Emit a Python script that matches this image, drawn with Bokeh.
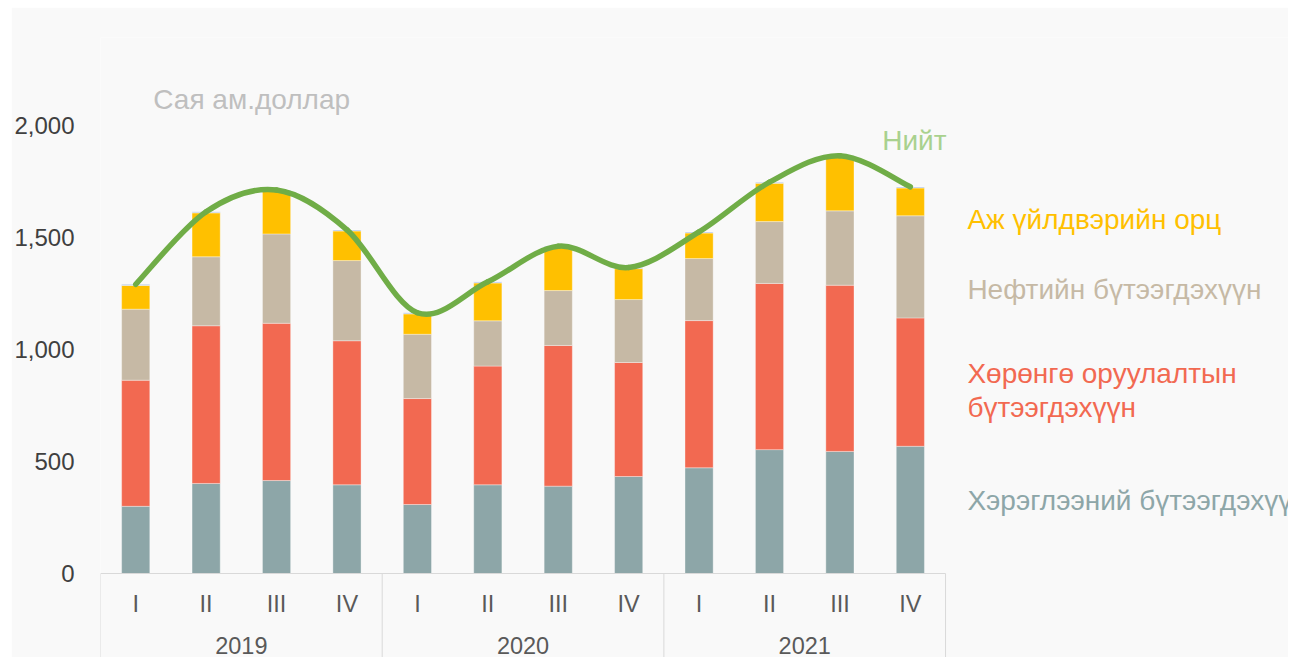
from bokeh.plotting import figure
from bokeh.models import Range1d, FixedTicker, NumeralTickFormatter, Label, LinearAxis, ColumnDataSource, Spacer
from bokeh.layouts import row, column
from bokeh.embed import file_html
from bokeh.resources import INLINE

years = ["2019", "2020", "2021"]
quarters = ["I", "II", "III", "IV"]

consumer = [300, 402, 415, 396, 308, 396, 390, 433, 472, 553, 545, 568]
investment = [563, 704, 702, 643, 473, 530, 628, 509, 657, 742, 742, 573]
petroleum = [317, 308, 399, 358, 287, 202, 245, 281, 277, 276, 332, 456]
industrial = [106, 196, 191, 132, 91, 169, 193, 138, 114, 171, 241, 124]
other = [5, 5, 5, 5, 5, 5, 5, 5, 5, 5, 5, 5]

names = ["consumer", "investment", "petroleum", "industrial", "other"]
colors = ["#8DA6A8", "#F26951", "#C6B9A5", "#FFC000", "#B4C7E7"]

labels_q = [q for y in years for q in quarters]
n = len(labels_q)
xpos = [i + 0.5 for i in range(n)]
totals = [a + b + c + d + e for a, b, c, d, e in zip(consumer, investment, petroleum, industrial, other)]

FONT = "Liberation Sans"

p = figure(
    x_range=Range1d(0, 16.87),
    y_range=Range1d(-375, 2392.857),
    frame_width=1188, frame_height=620,
    min_border_left=88, min_border_right=0, min_border_top=30, min_border_bottom=0,
    output_backend="svg", toolbar_location=None,
    background_fill_color="#f9f9f9", border_fill_color="#f9f9f9",
    outline_line_color=None,
)

source = ColumnDataSource(dict(x=xpos, consumer=consumer, investment=investment,
                               petroleum=petroleum, industrial=industrial, other=other))
p.vbar_stack(names, x="x", width=0.4, fill_color=colors, line_color="#ffffff",
             line_alpha=0.35, line_width=1, source=source)

# group boundaries below the axis
bounds = [0]
for y in years:
    bounds.append(bounds[-1] + len(quarters))
centers = [(bounds[i] + bounds[i + 1]) / 2 for i in range(len(years))]
p.segment(x0=bounds, y0=[0] * len(bounds), x1=bounds, y1=[-1000] * len(bounds),
          line_color="#D9D9D9", line_width=1)

# smoothed total line (Catmull-Rom -> Bezier)
def P(i):
    i = max(0, min(n - 1, i))
    return xpos[i], totals[i]
bx0, by0, bx1, by1, cx0, cy0, cx1, cy1 = [], [], [], [], [], [], [], []
for i in range(n - 1):
    p0, p1, p2, p3 = P(i - 1), P(i), P(i + 1), P(i + 2)
    bx0.append(p1[0]); by0.append(p1[1])
    bx1.append(p2[0]); by1.append(p2[1])
    cx0.append(p1[0] + (p2[0] - p0[0]) / 6); cy0.append(p1[1] + (p2[1] - p0[1]) / 6)
    cx1.append(p2[0] - (p3[0] - p1[0]) / 6); cy1.append(p2[1] - (p3[1] - p1[1]) / 6)
p.bezier(x0=bx0, y0=by0, x1=bx1, y1=by1, cx0=cx0, cy0=cy0, cx1=cx1, cy1=cy1,
         line_color="#70AD47", line_width=5.5, line_cap="round")

p.xgrid.visible = False
p.ygrid.visible = False

p.yaxis.ticker = FixedTicker(ticks=[0, 500, 1000, 1500, 2000])
p.yaxis.formatter = NumeralTickFormatter(format="0,0")
p.yaxis.axis_line_color = None
p.yaxis.major_tick_line_color = None
p.yaxis.minor_tick_line_color = None
p.yaxis.major_label_standoff = 20
p.yaxis.major_label_text_font = FONT
p.yaxis.major_label_text_font_size = "24px"
p.yaxis.major_label_text_color = "#404040"

# quarter axis
xa = p.xaxis[0]
xa.fixed_location = 0
xa.bounds = (bounds[0], bounds[-1])
xa.ticker = FixedTicker(ticks=xpos)
xa.major_label_overrides = {x: q for x, q in zip(xpos, labels_q)}
xa.axis_line_color = "#D9D9D9"
xa.major_tick_line_color = None
xa.minor_tick_line_color = None
xa.major_label_standoff = 11
xa.major_label_text_font = FONT
xa.major_label_text_font_size = "23.5px"
xa.major_label_text_color = "#595959"

# year axis
ya = LinearAxis(fixed_location=0, ticker=FixedTicker(ticks=centers),
                major_label_overrides={c: y for c, y in zip(centers, years)},
                axis_line_color=None, major_tick_line_color=None, minor_tick_line_color=None,
                major_label_standoff=57, major_label_text_font=FONT,
                major_label_text_font_size="23.5px", major_label_text_color="#595959")
p.add_layout(ya, "below")

def lab(x, y, text, color, size="28px"):
    p.add_layout(Label(x=x, y=y, text=text, text_color=color, text_font=FONT,
                       text_font_size=size, text_baseline="middle", text_align="left"))

lab(0.75, 2116, "Сая ам.доллар", "#BFBFBF")
lab(11.10, 1933, "Нийт", "#A9D18E")
lab(12.31, 1580, "Аж үйлдвэрийн орц", "#FFC000")
lab(12.31, 1268, "Нефтийн бүтээгдэхүүн", "#C6B9A5")
lab(12.31, 893, "Хөрөнгө оруулалтын", "#F26951")
lab(12.31, 741, "бүтээгдэхүүн", "#F26951")
lab(12.31, 326, "Хэрэглээний бүтээгдэхүүн", "#8DA6A8")

layout = column(Spacer(height=7, width=10), row(Spacer(width=11, height=10), p))
open("out.html", "w").write(file_html(layout, INLINE))
